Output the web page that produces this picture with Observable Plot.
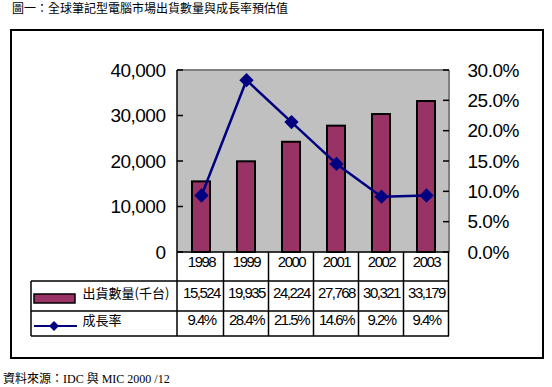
<!DOCTYPE html>
<html><head><meta charset="utf-8">
<script src="https://cdn.jsdelivr.net/npm/d3@7"></script>
<script src="https://cdn.jsdelivr.net/npm/@observablehq/plot@0.6"></script>
<style>
body{margin:0;background:#fff;}
#wrap{position:relative;width:552px;height:387px;overflow:hidden;background:#fff;}
#chart{position:absolute;left:0;top:0;}
#title{position:absolute;left:12px;top:1px;font-size:12px;line-height:14px;font-family:"Noto Sans CJK TC","Noto Sans CJK SC",sans-serif;white-space:nowrap;color:#000;}
#cap{position:absolute;left:3px;top:372px;font-size:12px;line-height:14px;font-family:"Liberation Serif","Noto Sans CJK TC",serif;white-space:nowrap;color:#000;}
.tbl text{letter-spacing:-1.5px;}
.ax text{letter-spacing:-0.5px;}
</style></head><body>
<div id="wrap">
<div id="chart"></div>
<div id="title">圖一：全球筆記型電腦市場出貨數量與成長率預估值</div>
<div id="cap">資料來源：IDC 與 MIC 2000 /12</div>
</div>
<script>
const years = ["1998","1999","2000","2001","2002","2003"];
const shipments = [15524,19935,24224,27768,30321,33179];
const growth = [0.094,0.284,0.215,0.146,0.092,0.094];
const leftTicks = [0,10000,20000,30000,40000];
const rightTicks = [0,0.05,0.10,0.15,0.20,0.25,0.30];
const seriesNames = ["出貨數量(千台)","成長率"];
const Y_MAX = 40000, P_MAX = 0.30;

const data = years.map((year,i)=>({year, shipments: shipments[i], growth: growth[i]}));
const toY = p => p * Y_MAX / P_MAX;
const cjk = "'Noto Sans CJK TC','Noto Sans CJK SC',sans-serif";

const plot = Plot.plot({
  width:552, height:387,
  marginLeft:177, marginRight:103, marginTop:70, marginBottom:135,
  x:{domain: years, paddingInner:0.6, paddingOuter:0.3, axis:null},
  y:{domain:[0,Y_MAX], axis:null},
  style:{fontFamily:"'Liberation Sans', Arial, sans-serif", background:"transparent", overflow:"visible"},
  marks:[
    Plot.frame({fill:"#c0c0c0", stroke:null}),
    Plot.barY(data,{x:"year", y:"shipments", fill:"#993366", stroke:"#000", strokeWidth:2}),
    Plot.lineY(data,{x:"year", y:d=>toY(d.growth), stroke:"#000080", strokeWidth:2.5}),
    Plot.dot(data,{x:"year", y:d=>toY(d.growth), symbol:"diamond2", r:5.5, fill:"#000080", stroke:"#000080"}),
    Plot.axisY(leftTicks,{anchor:"left", label:null, tickSize:0, tickPadding:12, tickFormat:d3.format(","), fontSize:19, className:"ax"}),
    Plot.axisY(rightTicks.map(toY),{anchor:"right", label:null, tickSize:0, tickPadding:18, tickFormat:d=>d3.format(".1%")(d*P_MAX/Y_MAX), fontSize:19, className:"ax"}),
    Plot.text(data,{x:"year", text:"year", frameAnchor:"bottom", dy:14, fontSize:15, className:"tbl"}),
    Plot.text(data,{x:"year", text:d=>d3.format(",")(d.shipments), frameAnchor:"bottom", dy:45, fontSize:15, className:"tbl"}),
    Plot.text(data,{x:"year", text:d=>d3.format(".1%")(d.growth), frameAnchor:"bottom", dy:72, fontSize:15, className:"tbl"}),
    Plot.text([seriesNames[0]],{text:d=>d, frameAnchor:"bottom-left", dx:-95, dy:45, textAnchor:"start", fontSize:13, fontFamily:cjk}),
    Plot.text([seriesNames[1]],{text:d=>d, frameAnchor:"bottom-left", dx:-95, dy:72, textAnchor:"start", fontSize:13, fontFamily:cjk})
  ]
});
document.getElementById("chart").appendChild(plot);

// decorations using the plot's scales
const xs = plot.scale("x"), ys = plot.scale("y");
const svg = d3.select(plot);
const g = svg.append("g").attr("fill","none");
const L = 177, R = 449, T = 70, B = 252;
const rows = [B, 281, 311, 336];
const step = xs.step;
const cx = y => xs.apply(y) + xs.bandwidth/2;
const line = (x1,y1,x2,y2,c,w) => g.append("line").attr("x1",x1).attr("y1",y1).attr("x2",x2).attr("y2",y2).attr("stroke",c||"#000").attr("stroke-width",w||1.5);
// plot area border
line(L,T,R,T,"#808080",2);
line(R,T,R,B,"#808080",2);
line(L,T,L,rows[3],"#000",1.5);
// inward ticks
leftTicks.forEach(v=>line(L,ys.apply(v),L+6,ys.apply(v),"#000",1.5));
rightTicks.forEach(p=>line(R-6,ys.apply(toY(p)),R,ys.apply(toY(p)),"#000",1.5));
// table grid
line(L,B,R,B,"#000",1.5);
line(31,rows[1],R,rows[1]);
line(31,rows[2],R,rows[2]);
line(31,rows[3],R,rows[3]);
line(31,rows[1],31,rows[3]);
years.forEach(y=>line(cx(y)+step/2,B,cx(y)+step/2,rows[3]));
// legend swatches
g.append("rect").attr("x",34).attr("y",294).attr("width",41).attr("height",9).attr("fill","#993366").attr("stroke","#000").attr("stroke-width",1.5);
line(34,326,77,326,"#000080",2);
g.append("path").attr("d",d3.symbol(d3.symbolDiamond2, Math.PI*4.5*4.5)()).attr("transform","translate(54,326)").attr("fill","#000080");
// outer frame
g.append("rect").attr("x",11).attr("y",30).attr("width",532).attr("height",328).attr("stroke","#000").attr("stroke-width",2);
</script>
</body></html>
